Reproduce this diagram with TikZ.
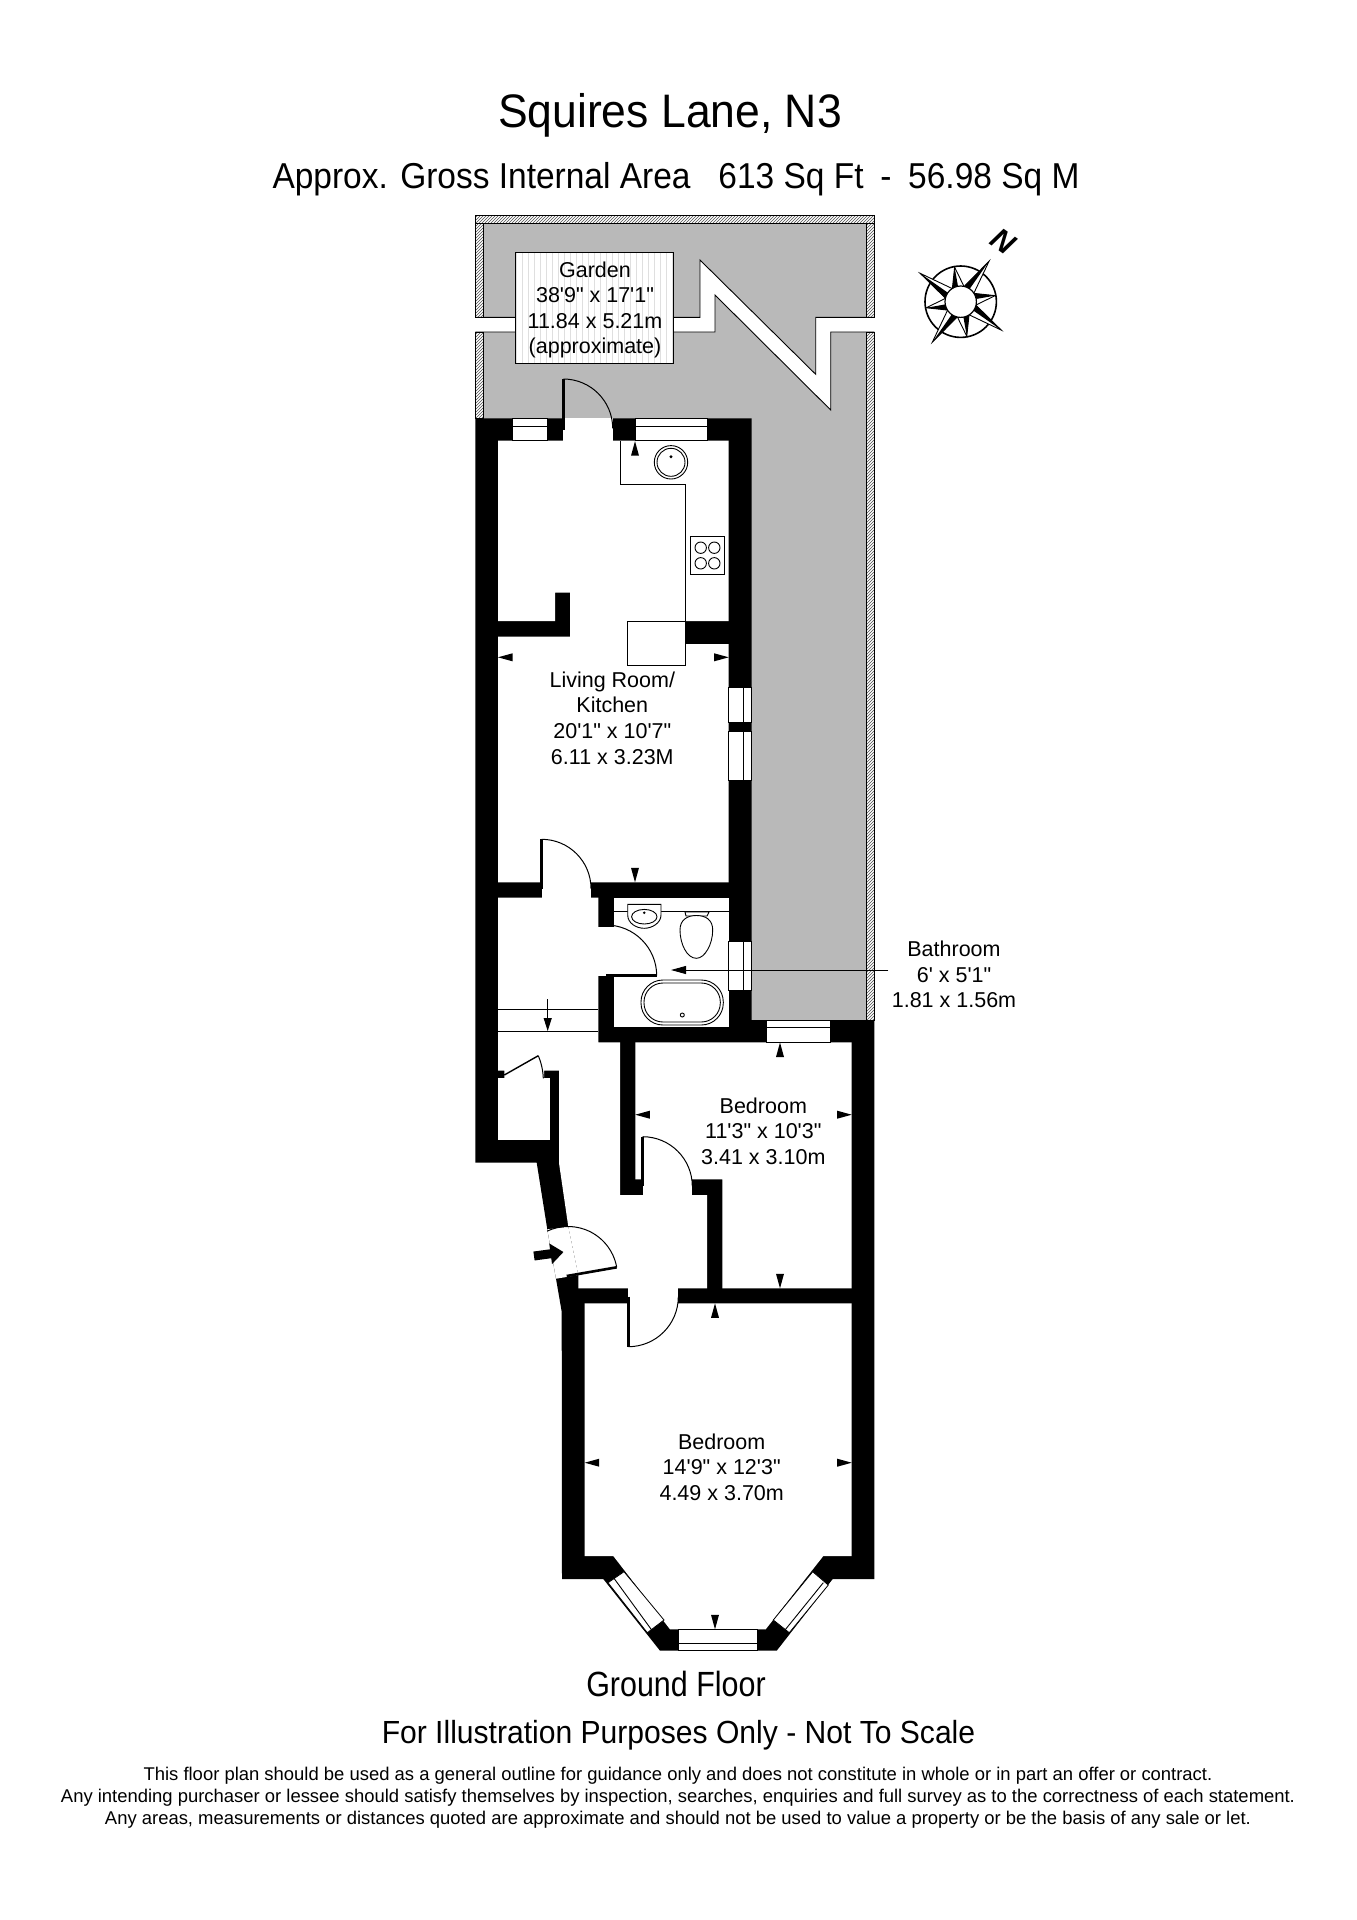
\documentclass[tikz,border=0pt]{standalone}
\usepackage{fontspec}
\usepackage{tikz}
\usetikzlibrary{patterns,arrows.meta}
\newfontfamily\plan{Liberation Sans}
\tikzset{
	roomlabel/.style={font=\plan\fontsize{21.5}{25.6}\selectfont,align=center,inner sep=0pt},
	headline/.style={font=\plan,align=center,inner sep=0pt},
	finelabel/.style={font=\plan\fontsize{18.44}{22}\selectfont,inner sep=0pt},
	glazing/.style={fill=white,draw=black,line width=0.8pt},
	fitment/.style={draw=black,line width=0.9pt},
	leaf/.style={draw=black,line width=2.6pt},
	swing/.style={draw=black,line width=1pt},
	boundary/.style={draw=black,line width=1pt,pattern=north east lines,pattern color=black!70}
}
\definecolor{gardengrey}{HTML}{B9B9B9}
\begin{document}
\begin{tikzpicture}[x=1pt,y=-1pt]
	\useasboundingbox (0,0) rectangle (1357,1920);
	% garden
	\fill[fill=gardengrey] (483,223) rectangle (867,1020);
	\fill[fill=white] (475,317.3)--(700,317.3)--(700,260)--(815.7,374.3)--(815.7,317.3)--(875,317.3)--(875,332)--(830.7,332)--(830.7,410)--(715,295)--(715,332)--(475,332)--cycle;
	\draw[fitment] (475.3,317.3)--(700,317.3)--(700,260)--(815.7,374.3)--(815.7,317.3)--(874.3,317.3);
	\draw[fitment] (475.3,332)--(715,332)--(715,295)--(830.7,410)--(830.7,332)--(874.3,332);
	\draw[boundary] (475.3,215.7) rectangle (874.3,223.3);
	\draw[boundary] (475.3,223.3) rectangle (483.3,317.3);
	\draw[boundary] (475.3,332) rectangle (483.3,418.3);
	\draw[boundary] (866.7,223.3) rectangle (874.3,317.3);
	\draw[boundary] (866.7,332) rectangle (874.3,1020);
	% walls
	\fill[fill=black] (475.3,418.3)--(751.7,418.3)--(751.7,1020)--(874.3,1020)--(874.3,1579)--(832.7,1579)--(776.7,1650.7)--(660,1650.7)--(603.3,1579)--(562,1579)--(561.7,1311.7)--(556,1278.7)--(547.3,1229.3)--(536.7,1162.7)--(475.3,1162.7)--cycle;
	% rooms
	\fill[fill=white] (498,440.7)--(728.7,440.7)--(728.7,621)--(685.7,621)--(685.7,644)--(728.7,644)--(728.7,882.3)--(498,882.3)--(498,636.7)--(570,636.7)--(570,592.7)--(555,592.7)--(555,621)--(498,621)--cycle;
	\fill[fill=white] (614,897.7) rectangle (728.7,1027.3);
	\fill[fill=white] (635.3,1042.3)--(851.7,1042.3)--(851.7,1288.3)--(722.3,1288.3)--(722.3,1179.3)--(635.3,1179.3)--cycle;
	\fill[fill=white] (584.7,1303.3)--(851.7,1303.3)--(851.7,1556)--(823.3,1556)--(765.7,1629.3)--(670,1629.3)--(613.3,1556)--(584.7,1556)--cycle;
	\fill[fill=white] (498,897.7)--(598.3,897.7)--(598.3,1042.3)--(620,1042.3)--(620,1195)--(707,1195)--(707,1288.3)--(578.3,1288.3)--(578.3,1275)--(568.3,1226.7)--(559,1163)--(559,1070.7)--(544,1070.7)--(544,1078.3)--(504.3,1078.3)--(504.3,1070.7)--(498,1070.7)--cycle;
	\fill[fill=white] (498,1078.3) rectangle (550,1140);
	% openings
	\fill[fill=white] (547.3,1229.3)--(568.3,1226.7)--(578.3,1275)--(556,1278.7)--cycle;
	\fill[fill=white] (563.3,418.3) rectangle (612.7,441);
	\fill[fill=white] (541.7,882) rectangle (591,898);
	\fill[fill=white] (598,926.7) rectangle (614.5,975.7);
	\fill[fill=white] (642.7,1179) rectangle (692.3,1195.5);
	\fill[fill=white] (628.3,1288) rectangle (678.3,1304);
	% windows
	\draw[glazing] (512.3,418.3) rectangle (547.7,440.7);
	\draw[glazing] (635.3,418.3) rectangle (707,440.7);
	\draw[glazing] (728.7,687.7) rectangle (751.7,722.7);
	\draw[glazing] (728.7,731) rectangle (751.7,780.7);
	\draw[glazing] (728.7,941.7) rectangle (751.7,990.7);
	\draw[glazing] (766,1020) rectangle (830,1042.3);
	\draw[glazing] (678.7,1629.3) rectangle (757.7,1650.7);
	\draw[glazing] (624,1571.7)--(664,1620)--(647.3,1632.7)--(608,1582.7)--cycle;
	\draw[glazing] (812.7,1571.7)--(773.3,1620)--(789.3,1632.7)--(828.3,1585)--cycle;
	\draw[fitment] (512.3,426)--(547.7,426);
	\draw[fitment] (635.3,426)--(707,426);
	\draw[fitment] (743.3,687.7)--(743.3,722.7);
	\draw[fitment] (743.3,731)--(743.3,780.7);
	\draw[fitment] (743.3,941.7)--(743.3,990.7);
	\draw[fitment] (766,1027.3)--(830,1027.3);
	\draw[fitment] (678.7,1643.7)--(757.7,1643.7);
	\draw[fitment] (614,1578.3)--(651.7,1630);
	\draw[fitment] (823.3,1582.7)--(785,1630);
	% doors
	\draw[leaf] (563.3,430)--(563.3,379);
	\draw[swing] (563.3,379) arc[start angle=90,end angle=0,radius=49.4pt];
	\draw[leaf] (541.7,889)--(541.7,839.3);
	\draw[swing] (541.7,839.3) arc[start angle=90,end angle=0,radius=49.3pt];
	\draw[leaf] (606,975.7)--(656.7,975.7);
	\draw[swing] (656.7,975.7) arc[start angle=0,end angle=90,radius=50.7pt];
	\draw[leaf] (642.7,1186)--(642.7,1136.7);
	\draw[swing] (642.7,1136.7) arc[start angle=90,end angle=0,radius=49.6pt];
	\draw[leaf] (628.3,1296.7)--(628.3,1346.7);
	\draw[swing] (628.3,1346.7) arc[start angle=270,end angle=360,radius=50pt];
	\draw[leaf] (566.7,1276)--(616.7,1267.3);
	\draw[swing] (616.7,1267.3) arc[start angle=10,end angle=115,radius=49.4pt];
	\draw[leaf,line width=1.4pt] (504.3,1075)--(538.3,1055.7);
	\draw[swing] (538.3,1055.7) .. controls (541,1062) and (543,1070) .. (543.3,1078.3);
	\draw[-{Triangle[length=13pt,width=20pt]},line width=9pt,draw=black] (534,1256)--(563.5,1252);
	% kitchen
	\draw[fitment] (620.7,441)--(620.7,484)--(685.7,484)--(685.7,621);
	\draw[fitment,fill=white] (627.7,621) rectangle (685.7,665);
	\draw[fitment] (671,462.3) circle[radius=16.7pt];
	\draw[fitment] (671,462.3) circle[radius=14pt];
	\fill[fill=black] (671,456.7) circle[radius=1.6pt];
	\draw[fitment] (690.7,536.7) rectangle (724,574.7);
	\foreach \hobx in {700.7,714.3}
		\foreach \hoby in {547.7,563.3}
			\draw[fitment] (\hobx,\hoby) circle[radius=5.7pt];
	% hall lines
	\draw[fitment] (498,1009)--(598.3,1009);
	\draw[fitment] (498,1031)--(598.3,1031);
	\draw[fitment,-{Triangle[length=13pt,width=8pt]}] (547.7,999)--(547.7,1031);
	% bathroom
	\draw[fitment] (614,911.7)--(627.7,911.7);
	\draw[fitment] (661,911.7)--(728.7,911.7);
	\draw[fitment,fill=white] (627.7,904.3)--(661,904.3)--(661,915) .. controls (661,923) and (652,928.3) .. (644.3,928.3) .. controls (636,928.3) and (627.7,923) .. (627.7,915)--cycle;
	\draw[fitment] (644.3,916.7) ellipse[x radius=12.7pt,y radius=7.3pt];
	\fill[fill=black] (644.3,912.7) circle[radius=1.4pt];
	\draw[fitment,fill=white] (685,912)--(709,912)--(707,916)--(686,916)--cycle;
	\draw[fitment,fill=white] (696.3,915.5) .. controls (706,915.5) and (712.7,920) .. (712.7,930) .. controls (712.7,944) and (705,958.3) .. (696.3,958.3) .. controls (687,958.3) and (680,944) .. (680,930) .. controls (680,920) and (687,915.5) .. (696.3,915.5)--cycle;
	\draw[fitment,rounded corners=22pt] (641,980) rectangle (723.3,1025);
	\draw[fitment,rounded corners=19pt] (644,983) rectangle (720.3,1022);
	\draw[fitment] (682.3,1015) circle[radius=2pt];
	% size markers
	\foreach \markx/\marky/\markrot in {635/441.2/0,498/657.3/90,728.7/657.3/270,635/882.3/180,
		780/1042.5/0,635.3/1114.7/90,851.7/1114.7/270,780/1288.3/180,
		715/1303.3/0,584.7/1462.7/90,851.7/1462.7/270,715/1629.3/180}
		\fill[fill=black,shift={(\markx,\marky)},rotate=\markrot] (0,0)--(-4,14.5)--(4,14.5)--cycle;
	\draw[fitment,-{Triangle[length=15pt,width=8pt]}] (888.3,970)--(671,970);
	% compass
	\begin{scope}[shift={(960.7,301.7)}]
		\draw[line width=1.6pt] (0,0) circle[radius=35.7pt];
		\foreach \pointang/\pointlen in {55/49.5,145/49.5,235/49.5,325/49.5,10/35,100/35,190/35,280/35}{
			\draw[fill=white,line width=0.9pt] (\pointang:\pointlen pt)--(\pointang-22:15.7pt)--(\pointang+22:15.7pt)--cycle;
			\fill[fill=black] (\pointang:\pointlen pt)--(\pointang+22:15.7pt)--(\pointang:15pt)--cycle;
		}
		\draw[fill=white,line width=1.2pt] (0,0) circle[radius=15.7pt];
	\end{scope}
	\node[inner sep=0pt,rotate=-35,font=\plan\bfseries\itshape\fontsize{30}{30}\selectfont] (north) at (1003.3,241.7) {N};
	% labels
	\draw[fill=white,draw=black,line width=1pt] (515.3,252.7) rectangle (673.7,363.3);
	\draw[step=6,gray!25,line width=0.2pt] (516,253) grid (673,363);
	\node[roomlabel] (garden) at (595,310) {Garden\\38'9" x 17'1"\\11.84 x 5.21m\\(approximate)};
	\node[roomlabel] (livingroom) at (612.3,718) {Living Room/\\Kitchen\\20'1" x 10'7"\\6.11 x 3.23M};
	\node[roomlabel] (bathroom) at (954,974.5) {Bathroom\\6' x 5'1"\\1.81 x 1.56m};
	\node[roomlabel] (bedroomrear) at (763.3,1131) {Bedroom\\11'3" x 10'3"\\3.41 x 3.10m};
	\node[roomlabel] (bedroomfront) at (721.7,1467) {Bedroom\\14'9" x 12'3"\\4.49 x 3.70m};
	\node[headline,font=\plan\fontsize{47}{47}\selectfont] (title) at (670,115) {\scalebox{0.947}[1]{Squires Lane, N3}};
	\node[headline,font=\plan\fontsize{36}{36}\selectfont] (area) at (676,179.5) {\scalebox{0.93}[1]{Approx. Gross Internal Area\hspace{20pt} 613 Sq Ft\hspace{8pt} -\hspace{8pt} 56.98 Sq M}};
	\node[headline,font=\plan\fontsize{35}{35}\selectfont] (floorname) at (676,1684) {\scalebox{0.87}[1]{Ground Floor}};
	\node[headline,font=\plan\fontsize{32}{32}\selectfont] (disclaimer) at (678.5,1735.5) {\scalebox{0.94}[1]{For Illustration Purposes Only - Not To Scale}};
	\node[finelabel] (fineone) at (678,1776) {This floor plan should be used as a general outline for guidance only and does not constitute in whole or in part an offer or contract.};
	\node[finelabel] (finetwo) at (678,1798) {Any intending purchaser or lessee should satisfy themselves by inspection, searches, enquiries and full survey as to the correctness of each statement.};
	\node[finelabel] (finethree) at (678,1820) {Any areas, measurements or distances quoted are approximate and should not be used to value a property or be the basis of any sale or let.};
\end{tikzpicture}
\end{document}
